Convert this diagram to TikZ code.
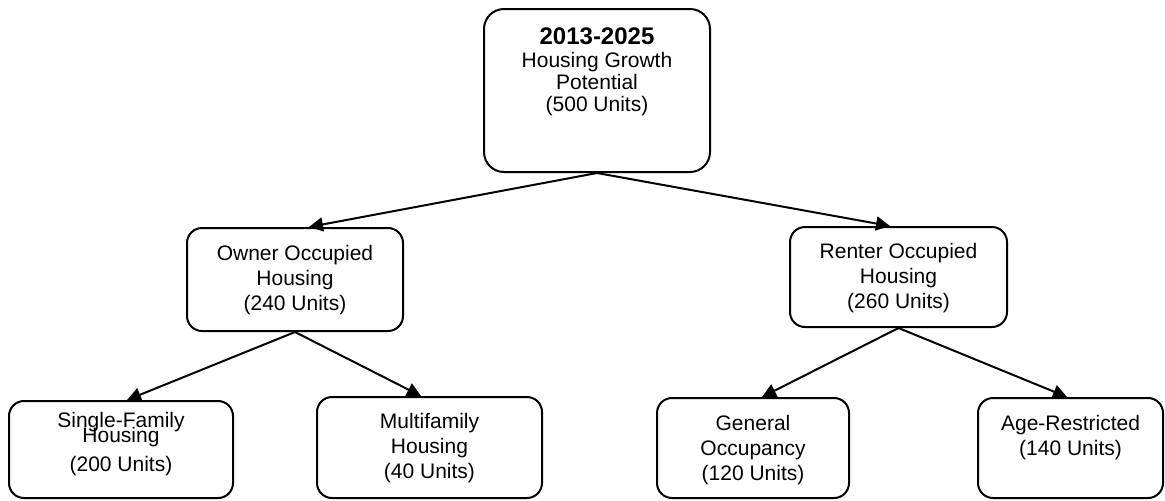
\documentclass[tikz,border=0pt]{standalone}
\usepackage{fontspec}
\setmainfont{Liberation Sans}
\usetikzlibrary{arrows.meta,positioning}
\tikzset{
  box/.style={draw, line width=1pt, rounded corners=7.5pt, inner sep=0pt},
  boxtext/.style={inner sep=0pt, align=center, font=\fontsize{10.5}{12.5}\selectfont}
}

\begin{document}
\begin{tikzpicture}[x=0.5pt, y=-0.5pt, > = {Triangle[length=7pt,width=7pt]}, line width=1pt]
        \useasboundingbox (0,0) rectangle (1165,500);

        \node[box, rounded corners=10pt, minimum width=113pt, minimum height=81.5pt] (total) at (597,90.5) {};
        \node[box, minimum width=108pt,   minimum height=51.5pt] (owner)   at (295,279.5)  {};
        \node[box, minimum width=108.5pt, minimum height=50pt]   (renter)  at (898.5,277)  {};
        \node[box, minimum width=112pt,   minimum height=48.5pt] (single)  at (121,449.5)  {};
        \node[box, minimum width=112.5pt, minimum height=50.5pt] (multi)   at (429.5,447.5) {};
        \node[box, minimum width=96pt,    minimum height=50pt]   (general) at (753,448)    {};
        \node[box, minimum width=92.5pt,  minimum height=50pt]   (age)     at (1070.5,448) {};

        \node[boxtext, font=\fontsize{10.5}{11}\selectfont, below=9.5pt of total.north] (total_t)
          {{\fontsize{12}{11}\selectfont\bfseries 2013-2025}\\[0.5pt] Housing Growth\\ Potential\\ (500 Units)};
        \node[boxtext, below=8.5pt of owner.north]   (owner_t)   {Owner Occupied\\ Housing\\ (240 Units)};
        \node[boxtext, below=8pt of renter.north]    (renter_t)  {Renter Occupied\\ Housing\\ (260 Units)};
        \node[boxtext, below=5.5pt of single.north]  (single_t)  {Single-Family\\[-5pt] Housing\\[2pt] (200 Units)};
        \node[boxtext, below=8pt of multi.north]     (multi_t)   {Multifamily\\ Housing\\ (40 Units)};
        \node[boxtext, below=8.5pt of general.north] (general_t) {General\\ Occupancy\\ (120 Units)};
        \node[boxtext, below=8.5pt of age.north]     (age_t)     {Age-Restricted\\ (140 Units)};

        \path[->] (total.south)  edge ([xshift=7pt]owner.north)
                                 edge ([xshift=-4.25pt]renter.north)
                  (owner.south)  edge ([xshift=3pt]single.north)
                                 edge ([xshift=-4.25pt]multi.north)
                  (renter.south) edge ([xshift=4.5pt]general.north)
                                 edge ([xshift=-1.75pt]age.north);
      \end{tikzpicture}
\end{document}
